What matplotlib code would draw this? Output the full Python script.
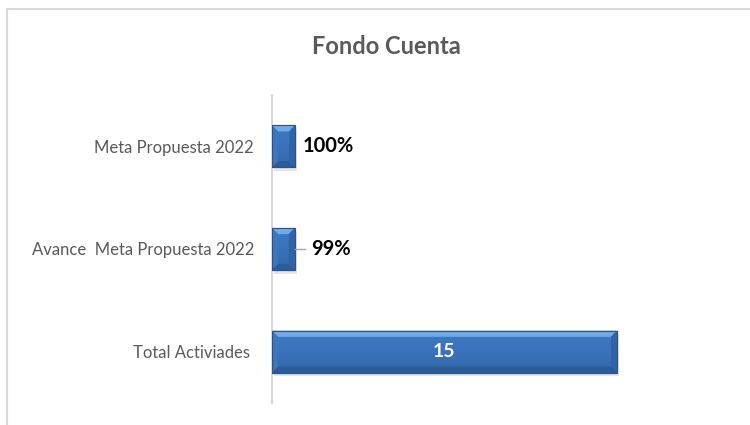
import numpy as np
import matplotlib
matplotlib.use('Agg')
import matplotlib.pyplot as plt
from matplotlib.patches import Rectangle, Polygon

# datos
categorias = ['Total Activiades ', 'Avance  Meta Propuesta 2022', 'Meta Propuesta 2022']
valores = [15, 0.99, 1.00]
etiquetas = ['15', '99%', '100%']
titulo = 'Fondo Cuenta'

plt.rcParams['font.family'] = ['Lato', 'DejaVu Sans']

fig = plt.figure(figsize=(7.5, 4.25), dpi=100)
# marco del grafico (recortado a la derecha y abajo)
fig.patches.append(Rectangle((7 / 750, -0.1), 1.2, 1 - 9 / 425 + 0.1, transform=fig.transFigure,
                             fill=False, edgecolor='#d9d9d9', linewidth=1.5))

ax = fig.add_axes([272 / 750, 22 / 425, 414 / 750, 308 / 425])
y = np.arange(len(categorias))
bars = ax.barh(y, valores, height=0.41, color='#3a73bb', edgecolor='#2b5386', linewidth=0.8, zorder=3)

# efecto bisel en cada barra
grad = np.linspace(0, 1, 64).reshape(-1, 1)
cmap = matplotlib.colors.LinearSegmentedColormap.from_list(
    'bev', ['#3266a8', '#3a73bb', '#3e79c2'])
bx, by = 0.26, 0.06
for b in bars:
    x0, y0 = b.get_x(), b.get_y()
    w, h = b.get_width(), b.get_height()
    x1, y1 = x0 + w, y0 + h
    # sombra
    ax.add_patch(Rectangle((x0 + 0.08, y0 - 0.035), w, h, color='#000000', alpha=0.10, zorder=2, linewidth=0))
    im = ax.imshow(grad, extent=(x0, x1, y0, y1), origin='lower', cmap=cmap,
                   aspect='auto', zorder=3.5)
    im.set_clip_path(b)
    caras = [
        ([(x0, y1), (x1, y1), (x1 - bx, y1 - by), (x0 + bx, y1 - by)], '#6fabea'),
        ([(x0, y0), (x1, y0), (x1 - bx, y0 + by), (x0 + bx, y0 + by)], '#2c5c98'),
        ([(x0, y0), (x0, y1), (x0 + bx, y1 - by), (x0 + bx, y0 + by)], '#3b76bf'),
        ([(x1, y0), (x1, y1), (x1 - bx, y1 - by), (x1 - bx, y0 + by)], '#2f63a5'),
    ]
    for pts, c in caras:
        p = Polygon(pts, closed=True, facecolor=c, edgecolor='none', zorder=3.6)
        ax.add_patch(p)
    ax.add_patch(Rectangle((x0, y0), w, h, fill=False, edgecolor='#2b5386', linewidth=0.8, zorder=3.7))

ax.set_xlim(0, 18)
ax.set_ylim(-0.5, 2.5)
ax.set_yticks(y)
ax.set_yticklabels(categorias, fontsize=12, color='#595959')
ax.tick_params(axis='y', length=0, pad=13)
ax.set_xticks([])
for s in ['top', 'right', 'bottom']:
    ax.spines[s].set_visible(False)
ax.spines['left'].set_color('#d9d9d9')
ax.spines['left'].set_linewidth(1.5)

# etiquetas de datos
ax.text(valores[0] / 2, y[0], etiquetas[0], ha='center', va='center', color='white',
        fontsize=14, fontweight='bold', zorder=5)
ax.plot([valores[1], valores[1] + 0.45], [y[1], y[1]], color='#a6a6a6', linewidth=1, zorder=4)
ax.text(valores[1] + 0.7, y[1], etiquetas[1], ha='left', va='center', color='black',
        fontsize=14.5, fontweight='bold', zorder=5)
ax.text(valores[2] + 0.35, y[2], etiquetas[2], ha='left', va='center', color='black',
        fontsize=14.5, fontweight='bold', zorder=5)

fig.text(386 / 750, 1 - 47 / 425, titulo, ha='center', va='center', fontsize=17,
         fontweight='bold', color='#595959')

fig.savefig('out.png', dpi=100)
